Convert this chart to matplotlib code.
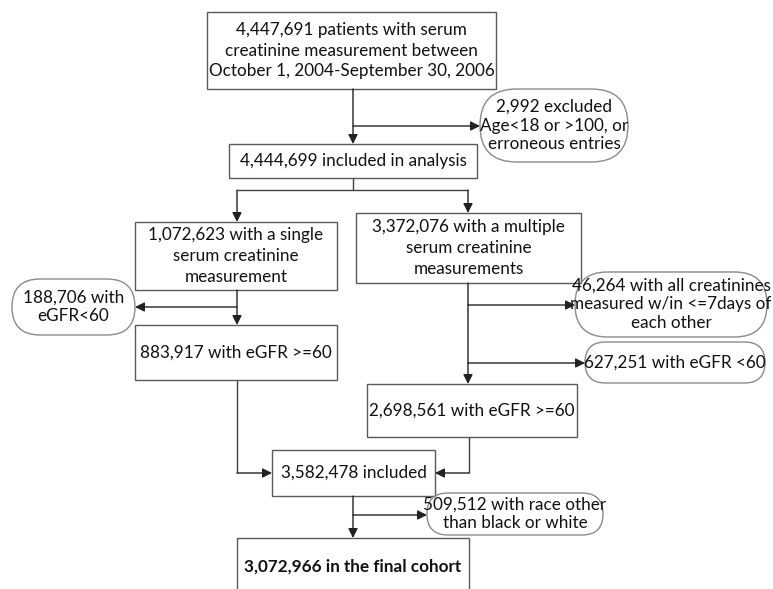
import matplotlib.pyplot as plt
from matplotlib.patches import Rectangle, FancyBboxPatch

plt.rcParams['font.family'] = ['Lato', 'DejaVu Sans']

# box texts and counts
box_labels = [
    "4,447,691 patients with serum\ncreatinine measurement between\nOctober 1, 2004-September 30, 2006",
    "4,444,699 included in analysis",
    "1,072,623 with a single\nserum creatinine\nmeasurement",
    "3,372,076 with a multiple\nserum creatinine\nmeasurements",
    "883,917 with eGFR >=60",
    "2,698,561 with eGFR >=60",
    "3,582,478 included",
    "3,072,966 in the final cohort",
]
excl_labels = [
    "2,992 excluded\nAge<18 or >100, or\nerroneous entries",
    "188,706 with\neGFR<60",
    "46,264 with all creatinines\nmeasured w/in <=7days of\neach other",
    "627,251 with eGFR <60",
    "509,512 with race other\nthan black or white",
]

# layout in pixel coords: x0, y0 (top), x1, y1 (bottom)
box_pos = [
    (207, 12, 496, 89),
    (229, 144, 477, 178),
    (135, 222, 337, 290),
    (356, 213, 581, 283),
    (135, 325, 337, 380),
    (367, 384, 577, 437),
    (272, 450, 435, 496),
    (237, 538, 469, 600),
]
excl_pos = [
    (480, 89, 628, 162),
    (12, 279, 135, 335),
    (575, 272, 767, 337),
    (585, 342, 765, 383),
    (427, 493, 603, 535),
]

W, H = 773, 589
fig = plt.figure(figsize=(W / 100, H / 100), dpi=100)
ax = fig.add_axes([0, 0, 1, 1])
ax.set_xlim(0, W)
ax.set_ylim(H, 0)
ax.axis('off')

edge = '#5a5a5a'
fs = 12.3

for i, (lab, (x0, y0, x1, y1)) in enumerate(zip(box_labels, box_pos)):
    ax.add_patch(Rectangle((x0, y0), x1 - x0, y1 - y0, fill=False, ec=edge, lw=1.0))
    cy = (y0 + y1) / 2 if i < 7 else 567
    ax.text((x0 + x1) / 2, cy, lab, ha='center', va='center', fontsize=fs,
            linespacing=1.35, color='#111111',
            fontweight='bold' if i == 7 else 'normal')

for lab, (x0, y0, x1, y1) in zip(excl_labels, excl_pos):
    r = (y1 - y0) / 2
    ax.add_patch(FancyBboxPatch((x0, y0), x1 - x0, y1 - y0,
                                boxstyle=f"round,pad=0,rounding_size={r}",
                                fill=False, ec='#8a8a8a', lw=1.0))
    ax.text((x0 + x1) / 2, (y0 + y1) / 2, lab, ha='center', va='center',
            fontsize=fs, linespacing=1.2, color='#111111')

lc = '#404040'


def line(xs, ys):
    ax.plot(xs, ys, color=lc, lw=1.0, solid_capstyle='butt')


def arrow(x0, y0, x1, y1):
    ax.annotate('', xy=(x1, y1), xytext=(x0, y0),
                arrowprops=dict(arrowstyle='-|>', color='#222222', lw=1.0,
                                mutation_scale=14, shrinkA=0, shrinkB=0))


# top flow
arrow(353, 89, 353, 144)
arrow(353, 126, 480, 126)
# split
line([353, 353], [178, 190])
line([237, 468], [190, 190])
arrow(237, 190, 237, 222)
arrow(468, 190, 468, 213)
# left branch
arrow(237, 290, 237, 325)
arrow(237, 307, 135, 307)
line([237, 237], [380, 473])
arrow(237, 473, 272, 473)
# right branch
arrow(468, 283, 468, 384)
arrow(468, 305, 575, 305)
arrow(468, 363, 585, 363)
line([469, 469], [437, 473])
arrow(469, 473, 435, 473)
# bottom
arrow(353, 496, 353, 538)
arrow(353, 515, 427, 515)

fig.savefig('out.png', dpi=100, facecolor='white')
